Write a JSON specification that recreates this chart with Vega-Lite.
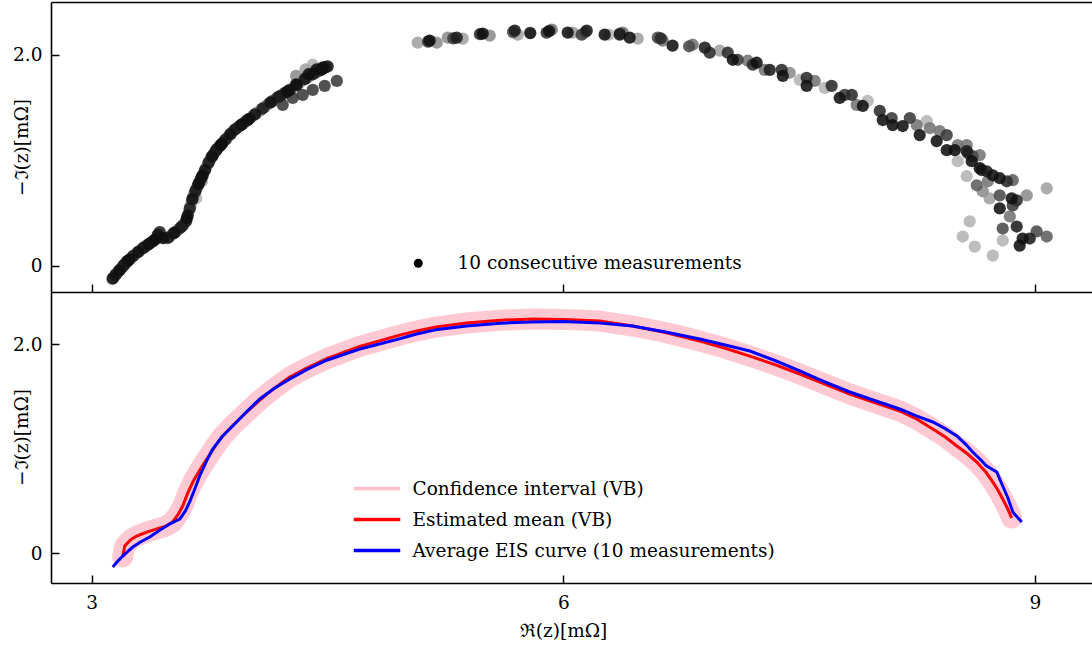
{
"$schema":"https://vega.github.io/schema/vega-lite/v6.json",
"padding":{"left":12,"top":2,"right":0,"bottom":0},
"background":"white",
"config":{
 "view":{"stroke":null},
 "font":"DejaVu Serif",
 "axis":{"domainColor":"black","domainWidth":1.6,"tickColor":"black","tickWidth":1.5,"tickSize":-8,"labelFont":"DejaVu Serif","labelFontSize":18.5,"labelColor":"black","titleFont":"DejaVu Serif","titleFontSize":18.5,"titleFontWeight":"normal","titleColor":"black","grid":false},
 "legend":{"labelFont":"DejaVu Serif","labelFontSize":18.5,"labelColor":"black","labelLimit":0}
},
"datasets":{
"pts":[
{"x":3.130,"y":-0.130,"m":0},{"x":3.138,"y":-0.112,"m":1},{"x":3.148,"y":-0.095,"m":2},{"x":3.158,"y":-0.076,"m":3},{"x":3.170,"y":-0.056,"m":4},{"x":3.183,"y":-0.033,"m":5},{"x":3.196,"y":-0.012,"m":6},{"x":3.210,"y":0.014,"m":7},{"x":3.224,"y":0.038,"m":8},{"x":3.240,"y":0.058,"m":9},
{"x":3.255,"y":0.080,"m":0},{"x":3.271,"y":0.100,"m":1},{"x":3.288,"y":0.121,"m":2},{"x":3.305,"y":0.141,"m":3},{"x":3.321,"y":0.160,"m":4},{"x":3.337,"y":0.178,"m":5},{"x":3.354,"y":0.195,"m":6},{"x":3.371,"y":0.212,"m":7},{"x":3.388,"y":0.229,"m":8},{"x":3.405,"y":0.250,"m":9},
{"x":3.420,"y":0.292,"m":9},{"x":3.433,"y":0.318,"m":8},{"x":3.446,"y":0.262,"m":0},{"x":3.462,"y":0.262,"m":1},{"x":3.478,"y":0.258,"m":2},{"x":3.495,"y":0.275,"m":3},{"x":3.515,"y":0.300,"m":4},{"x":3.535,"y":0.322,"m":5},{"x":3.558,"y":0.350,"m":6},{"x":3.580,"y":0.382,"m":7},
{"x":3.600,"y":0.420,"m":8},{"x":3.611,"y":0.476,"m":9},{"x":3.620,"y":0.520,"m":0},{"x":3.628,"y":0.568,"m":1},{"x":3.636,"y":0.610,"m":2},{"x":3.645,"y":0.650,"m":3},{"x":3.655,"y":0.690,"m":4},{"x":3.665,"y":0.726,"m":5},{"x":3.675,"y":0.760,"m":6},{"x":3.685,"y":0.792,"m":7},
{"x":3.695,"y":0.825,"m":8},{"x":3.706,"y":0.857,"m":9},{"x":3.716,"y":0.890,"m":0},{"x":3.727,"y":0.925,"m":1},{"x":3.738,"y":0.960,"m":2},{"x":3.750,"y":0.995,"m":3},{"x":3.760,"y":1.025,"m":4},{"x":3.772,"y":1.050,"m":5},{"x":3.785,"y":1.080,"m":6},{"x":3.800,"y":1.110,"m":7},
{"x":3.814,"y":1.133,"m":8},{"x":3.830,"y":1.160,"m":9},{"x":3.845,"y":1.185,"m":0},{"x":3.859,"y":1.210,"m":1},{"x":3.875,"y":1.235,"m":2},{"x":3.890,"y":1.260,"m":3},{"x":3.905,"y":1.283,"m":4},{"x":3.922,"y":1.303,"m":5},{"x":3.941,"y":1.324,"m":6},{"x":3.960,"y":1.345,"m":7},
{"x":3.982,"y":1.370,"m":8},{"x":4.005,"y":1.395,"m":9},{"x":4.027,"y":1.422,"m":0},{"x":4.050,"y":1.448,"m":1},{"x":4.075,"y":1.475,"m":2},{"x":4.100,"y":1.505,"m":3},{"x":4.125,"y":1.535,"m":4},{"x":4.151,"y":1.562,"m":5},{"x":4.178,"y":1.590,"m":6},{"x":4.205,"y":1.615,"m":7},
{"x":4.232,"y":1.640,"m":8},{"x":4.260,"y":1.667,"m":9},{"x":4.290,"y":1.695,"m":0},{"x":4.320,"y":1.730,"m":1},{"x":4.345,"y":1.758,"m":2},{"x":4.368,"y":1.781,"m":3},{"x":4.395,"y":1.805,"m":4},{"x":4.420,"y":1.828,"m":5},{"x":4.450,"y":1.848,"m":6},{"x":4.475,"y":1.870,"m":7},
{"x":4.501,"y":1.890,"m":8},{"x":4.406,"y":1.905,"m":0},{"x":4.360,"y":1.860,"m":1},{"x":4.300,"y":1.800,"m":2},{"x":4.215,"y":1.524,"m":6},{"x":4.279,"y":1.590,"m":6},{"x":4.342,"y":1.619,"m":6},{"x":4.406,"y":1.667,"m":6},{"x":4.482,"y":1.705,"m":6},{"x":4.559,"y":1.752,"m":6},
{"x":4.470,"y":1.880,"m":9},{"x":4.430,"y":1.860,"m":9},{"x":4.380,"y":1.815,"m":9},{"x":4.300,"y":1.720,"m":9},{"x":3.665,"y":0.640,"m":0},{"x":3.700,"y":0.800,"m":1},
{"x":3.134,"y":-0.121,"m":9},{"x":3.153,"y":-0.085,"m":8},{"x":3.176,"y":-0.045,"m":9},{"x":3.203,"y":0.001,"m":8},{"x":3.232,"y":0.048,"m":9},{"x":3.263,"y":0.090,"m":8},{"x":3.296,"y":0.131,"m":9},{"x":3.329,"y":0.169,"m":8},{"x":3.362,"y":0.203,"m":9},{"x":3.396,"y":0.240,"m":8},
{"x":3.454,"y":0.262,"m":9},{"x":3.486,"y":0.266,"m":8},{"x":3.525,"y":0.311,"m":9},{"x":3.569,"y":0.366,"m":8},{"x":3.605,"y":0.448,"m":9},{"x":3.624,"y":0.544,"m":8},{"x":3.640,"y":0.630,"m":9},{"x":3.660,"y":0.708,"m":8},{"x":3.680,"y":0.776,"m":9},{"x":3.700,"y":0.841,"m":8},
{"x":3.721,"y":0.907,"m":9},{"x":3.744,"y":0.977,"m":8},{"x":3.766,"y":1.037,"m":9},{"x":3.792,"y":1.095,"m":8},{"x":3.822,"y":1.146,"m":9},{"x":3.852,"y":1.197,"m":8},{"x":3.882,"y":1.247,"m":9},{"x":3.913,"y":1.293,"m":8},{"x":3.950,"y":1.334,"m":9},{"x":3.993,"y":1.382,"m":8},
{"x":4.038,"y":1.435,"m":9},{"x":4.087,"y":1.490,"m":8},{"x":4.138,"y":1.548,"m":9},{"x":4.191,"y":1.602,"m":8},{"x":4.246,"y":1.653,"m":9},{"x":4.305,"y":1.712,"m":8},{"x":4.356,"y":1.770,"m":9},{"x":4.407,"y":1.816,"m":8},{"x":4.462,"y":1.859,"m":9},{"x":4.490,"y":1.882,"m":8},
{"x":5.074,"y":2.114,"m":1},{"x":5.150,"y":2.133,"m":9},{"x":5.140,"y":2.125,"m":7},{"x":5.195,"y":2.114,"m":2},{"x":5.265,"y":2.162,"m":2},{"x":5.322,"y":2.162,"m":8},{"x":5.300,"y":2.155,"m":6},{"x":5.360,"y":2.152,"m":1},{"x":5.487,"y":2.200,"m":9},{"x":5.470,"y":2.195,"m":7},
{"x":5.532,"y":2.181,"m":2},{"x":5.691,"y":2.229,"m":8},{"x":5.680,"y":2.215,"m":5},{"x":5.710,"y":2.190,"m":1},{"x":5.786,"y":2.210,"m":0},{"x":5.790,"y":2.205,"m":9},{"x":5.894,"y":2.210,"m":7},{"x":5.926,"y":2.238,"m":3},{"x":5.910,"y":2.225,"m":9},{"x":6.028,"y":2.210,"m":9},
{"x":6.060,"y":2.210,"m":1},{"x":6.117,"y":2.190,"m":6},{"x":6.149,"y":2.229,"m":8},{"x":6.140,"y":2.215,"m":4},{"x":6.263,"y":2.190,"m":9},{"x":6.289,"y":2.190,"m":0},{"x":6.359,"y":2.190,"m":8},{"x":6.378,"y":2.210,"m":3},{"x":6.360,"y":2.200,"m":6},{"x":6.422,"y":2.162,"m":9},
{"x":6.473,"y":2.152,"m":1},{"x":6.601,"y":2.162,"m":5},{"x":6.632,"y":2.133,"m":3},{"x":6.620,"y":2.155,"m":7},{"x":6.695,"y":2.086,"m":9},{"x":6.823,"y":2.095,"m":3},{"x":6.800,"y":2.080,"m":5},
{"x":6.900,"y":2.067,"m":8},{"x":6.931,"y":2.019,"m":7},{"x":6.995,"y":2.038,"m":1},{"x":7.046,"y":2.019,"m":7},{"x":7.078,"y":1.952,"m":9},{"x":7.109,"y":1.952,"m":6},{"x":7.173,"y":1.943,"m":3},{"x":7.205,"y":1.905,"m":7},{"x":7.230,"y":1.924,"m":9},{"x":7.281,"y":1.857,"m":3},
{"x":7.313,"y":1.857,"m":8},{"x":7.389,"y":1.857,"m":7},{"x":7.396,"y":1.800,"m":9},{"x":7.440,"y":1.829,"m":2},{"x":7.504,"y":1.762,"m":0},{"x":7.548,"y":1.781,"m":7},{"x":7.548,"y":1.705,"m":9},{"x":7.599,"y":1.752,"m":3},{"x":7.663,"y":1.686,"m":0},{"x":7.707,"y":1.705,"m":7},
{"x":7.758,"y":1.590,"m":9},{"x":7.790,"y":1.619,"m":6},{"x":7.835,"y":1.619,"m":7},{"x":7.866,"y":1.524,"m":3},{"x":7.905,"y":1.514,"m":9},{"x":7.936,"y":1.562,"m":0},{"x":8.013,"y":1.467,"m":7},{"x":8.032,"y":1.381,"m":9},{"x":8.089,"y":1.400,"m":6},{"x":8.095,"y":1.333,"m":9},
{"x":8.159,"y":1.324,"m":9},{"x":8.204,"y":1.400,"m":6},{"x":8.248,"y":1.333,"m":3},{"x":8.267,"y":1.238,"m":9},{"x":8.312,"y":1.371,"m":0},{"x":8.331,"y":1.305,"m":3},{"x":8.375,"y":1.181,"m":9},{"x":8.394,"y":1.276,"m":3},{"x":8.439,"y":1.238,"m":6},{"x":8.439,"y":1.095,"m":9},
{"x":8.490,"y":1.095,"m":9},{"x":8.509,"y":1.143,"m":3},{"x":8.509,"y":0.990,"m":0},{"x":8.566,"y":1.143,"m":3},{"x":8.573,"y":1.067,"m":6},{"x":8.598,"y":0.990,"m":9},{"x":8.649,"y":1.048,"m":3},{"x":8.662,"y":0.905,"m":7},
{"x":8.566,"y":1.086,"m":8},{"x":8.604,"y":1.038,"m":5},{"x":8.649,"y":0.924,"m":9},{"x":8.693,"y":0.895,"m":8},{"x":8.732,"y":0.857,"m":9},{"x":8.776,"y":0.829,"m":9},{"x":8.821,"y":0.800,"m":7},{"x":8.859,"y":0.810,"m":4},{"x":8.630,"y":0.762,"m":4},{"x":8.668,"y":0.705,"m":2},
{"x":8.712,"y":0.638,"m":1},{"x":8.776,"y":0.667,"m":5},{"x":8.852,"y":0.638,"m":9},{"x":8.884,"y":0.619,"m":7},{"x":8.948,"y":0.667,"m":2},{"x":8.776,"y":0.543,"m":9},{"x":8.859,"y":0.571,"m":6},{"x":8.840,"y":0.467,"m":3},{"x":8.795,"y":0.352,"m":5},{"x":8.884,"y":0.371,"m":8},
{"x":8.922,"y":0.257,"m":9},{"x":8.903,"y":0.190,"m":9},{"x":8.967,"y":0.257,"m":8},{"x":9.011,"y":0.324,"m":5},{"x":9.075,"y":0.276,"m":4},{"x":9.075,"y":0.733,"m":1},{"x":8.585,"y":0.419,"m":0},{"x":8.541,"y":0.276,"m":0},{"x":8.617,"y":0.181,"m":0},{"x":8.732,"y":0.095,"m":0},
{"x":8.795,"y":0.238,"m":0},{"x":8.566,"y":0.848,"m":0},{"x":8.700,"y":0.800,"m":3}
],
"mean":[
{"x":3.197,"y":-0.038},{"x":3.210,"y":0.067},{"x":3.250,"y":0.130},{"x":3.286,"y":0.163},{"x":3.350,"y":0.200},{"x":3.413,"y":0.230},{"x":3.470,"y":0.255},{"x":3.515,"y":0.297},{"x":3.550,"y":0.370},{"x":3.579,"y":0.450},
{"x":3.610,"y":0.570},{"x":3.643,"y":0.679},{"x":3.690,"y":0.800},{"x":3.732,"y":0.900},{"x":3.780,"y":1.010},{"x":3.833,"y":1.120},{"x":3.900,"y":1.225},{"x":3.980,"y":1.340},{"x":4.069,"y":1.464},{"x":4.160,"y":1.575},
{"x":4.260,"y":1.684},{"x":4.380,"y":1.780},{"x":4.495,"y":1.860},{"x":4.700,"y":1.975},{"x":4.959,"y":2.085},{"x":5.067,"y":2.124},{"x":5.200,"y":2.165},{"x":5.385,"y":2.201},{"x":5.600,"y":2.228},{"x":5.805,"y":2.239},
{"x":6.000,"y":2.236},{"x":6.232,"y":2.220},{"x":6.441,"y":2.172},{"x":6.650,"y":2.110},{"x":6.868,"y":2.029},{"x":7.030,"y":1.960},{"x":7.186,"y":1.885},{"x":7.350,"y":1.800},{"x":7.504,"y":1.713},{"x":7.660,"y":1.620},
{"x":7.822,"y":1.522},{"x":7.980,"y":1.440},{"x":8.140,"y":1.359},{"x":8.250,"y":1.280},{"x":8.350,"y":1.187},{"x":8.430,"y":1.110},{"x":8.503,"y":1.024},{"x":8.570,"y":0.950},{"x":8.630,"y":0.871},{"x":8.690,"y":0.770},
{"x":8.732,"y":0.679},{"x":8.765,"y":0.600},{"x":8.795,"y":0.517},{"x":8.825,"y":0.430},{"x":8.852,"y":0.335}
],
"avg":[
{"x":3.134,"y":-0.134},{"x":3.165,"y":-0.080},{"x":3.197,"y":-0.029},{"x":3.230,"y":0.015},{"x":3.261,"y":0.057},{"x":3.310,"y":0.105},{"x":3.369,"y":0.153},{"x":3.430,"y":0.215},{"x":3.496,"y":0.278},{"x":3.560,"y":0.325},
{"x":3.595,"y":0.400},{"x":3.623,"y":0.488},{"x":3.655,"y":0.610},{"x":3.687,"y":0.737},{"x":3.730,"y":0.880},{"x":3.770,"y":0.995},{"x":3.830,"y":1.115},{"x":3.897,"y":1.215},{"x":3.980,"y":1.345},{"x":4.069,"y":1.474},
{"x":4.160,"y":1.575},{"x":4.260,"y":1.665},{"x":4.380,"y":1.765},{"x":4.495,"y":1.845},{"x":4.700,"y":1.950},{"x":4.959,"y":2.050},{"x":5.067,"y":2.096},{"x":5.200,"y":2.140},{"x":5.385,"y":2.172},{"x":5.600,"y":2.200},
{"x":5.805,"y":2.211},{"x":6.000,"y":2.215},{"x":6.232,"y":2.201},{"x":6.441,"y":2.172},{"x":6.650,"y":2.115},{"x":6.868,"y":2.048},{"x":7.030,"y":1.990},{"x":7.186,"y":1.933},{"x":7.350,"y":1.840},{"x":7.504,"y":1.742},
{"x":7.660,"y":1.640},{"x":7.822,"y":1.541},{"x":7.980,"y":1.460},{"x":8.140,"y":1.378},{"x":8.250,"y":1.310},{"x":8.350,"y":1.254},{"x":8.430,"y":1.190},{"x":8.503,"y":1.120},{"x":8.560,"y":1.040},{"x":8.604,"y":0.967},
{"x":8.650,"y":0.900},{"x":8.693,"y":0.833},{"x":8.757,"y":0.775},{"x":8.795,"y":0.641},{"x":8.830,"y":0.520},{"x":8.859,"y":0.392},{"x":8.890,"y":0.340},{"x":8.916,"y":0.297}
]
},
"vconcat":[
 {
  "width":1041,"height":290,
  "layer":[
   {
    "data":{"name":"pts"},
    "mark":{"type":"point","filled":true,"size":150,"opacity":0.88,"strokeWidth":0},
    "encoding":{
     "x":{"field":"x","type":"quantitative","scale":{"domain":[2.741,9.363],"nice":false,"zero":false},
          "axis":{"values":[3,6,9],"labels":false,"title":null,"domain":true}},
     "y":{"field":"y","type":"quantitative","scale":{"domain":[-0.25,2.5],"nice":false,"zero":false},
          "axis":{"values":[0,2],"labelExpr":"datum.value == 0 ? '0' : format(datum.value, '.1f')","labelPadding":17,"title":"−ℑ(z)[mΩ]","titleX":-30,"titleY":145,"titleAngle":270,"titleBaseline":"middle","titleAlign":"center"}},
     "fill":{"field":"m","type":"ordinal","scale":{"domain":[0,1,2,3,4,5,6,7,8,9],"range":["#b4b4b4","#a0a0a0","#8c8c8c","#747474","#5e5e5e","#4a4a4a","#3a3a3a","#2a2a2a","#1c1c1c","#101010"]},"legend":null},
     "order":{"field":"m","type":"quantitative"},
     "shape":{"datum":"10 consecutive measurements","type":"nominal","scale":{"range":["circle"]},
        "legend":{"orient":"none","legendX":358,"legendY":252,"title":null,"padding":0,"symbolSize":80,"symbolFillColor":"black","symbolStrokeColor":"black","symbolStrokeWidth":0,"symbolOpacity":1,"labelOffset":30,"labelFontSize":18.5,"labelLimit":0}}
    }
   },
   {
    "data":{"name":"pts"},
    "mark":{"type":"point","opacity":0},
    "encoding":{
     "x":{"field":"x","type":"quantitative","axis":{"orient":"top","ticks":false,"labels":false,"title":null,"domain":true}},
     "y":{"field":"y","type":"quantitative"}
    }
   }
  ],
  "resolve":{"axis":{"x":"independent"}}
 },
 {
  "width":1041,"height":291,
  "layer":[
   {
    "data":{"name":"mean"},
    "mark":{"type":"line","strokeWidth":21,"strokeCap":"round","strokeJoin":"round","opacity":0.85},
    "encoding":{
     "x":{"field":"x","type":"quantitative","scale":{"domain":[2.741,9.363],"nice":false,"zero":false},
          "axis":{"values":[3,6,9],"format":"d","labelPadding":18,"title":"ℜ(z)[mΩ]","titleX":512,"titleY":47,"titleBaseline":"middle","titleAlign":"center"}},
     "y":{"field":"y","type":"quantitative","scale":{"domain":[-0.287,2.498],"nice":false,"zero":false},
          "axis":{"values":[0,2],"labelExpr":"datum.value == 0 ? '0' : format(datum.value, '.1f')","labelPadding":17,"title":"−ℑ(z)[mΩ]","titleX":-30,"titleY":145,"titleAngle":270,"titleBaseline":"middle","titleAlign":"center"}},
     "color":{"datum":"Confidence interval (VB)","type":"nominal",
        "scale":{"domain":["Confidence interval (VB)","Estimated mean (VB)","Average EIS curve (10 measurements)"],"range":["#ffc0cb","#ff0000","#0000ff"]},
        "legend":{"orient":"none","legendX":308.5,"legendY":179,"title":null,"padding":0,"symbolType":"M-1.5,0H1.5","symbolSize":961,"symbolStrokeWidth":3.5,"symbolOpacity":1,"labelOffset":18,"rowPadding":4,"labelFontSize":18.5,"labelLimit":0}}
    }
   },
   {
    "data":{"name":"mean"},
    "mark":{"type":"line","strokeWidth":3},
    "encoding":{
     "x":{"field":"x","type":"quantitative"},
     "y":{"field":"y","type":"quantitative"},
     "color":{"datum":"Estimated mean (VB)","type":"nominal"}
    }
   },
   {
    "data":{"name":"avg"},
    "mark":{"type":"line","strokeWidth":3},
    "encoding":{
     "x":{"field":"x","type":"quantitative"},
     "y":{"field":"y","type":"quantitative"},
     "color":{"datum":"Average EIS curve (10 measurements)","type":"nominal"}
    }
   }
  ]
 }
],
"spacing":0,
"bounds":"flush",
"resolve":{"scale":{"color":"independent","fill":"independent","shape":"independent"}}
}
